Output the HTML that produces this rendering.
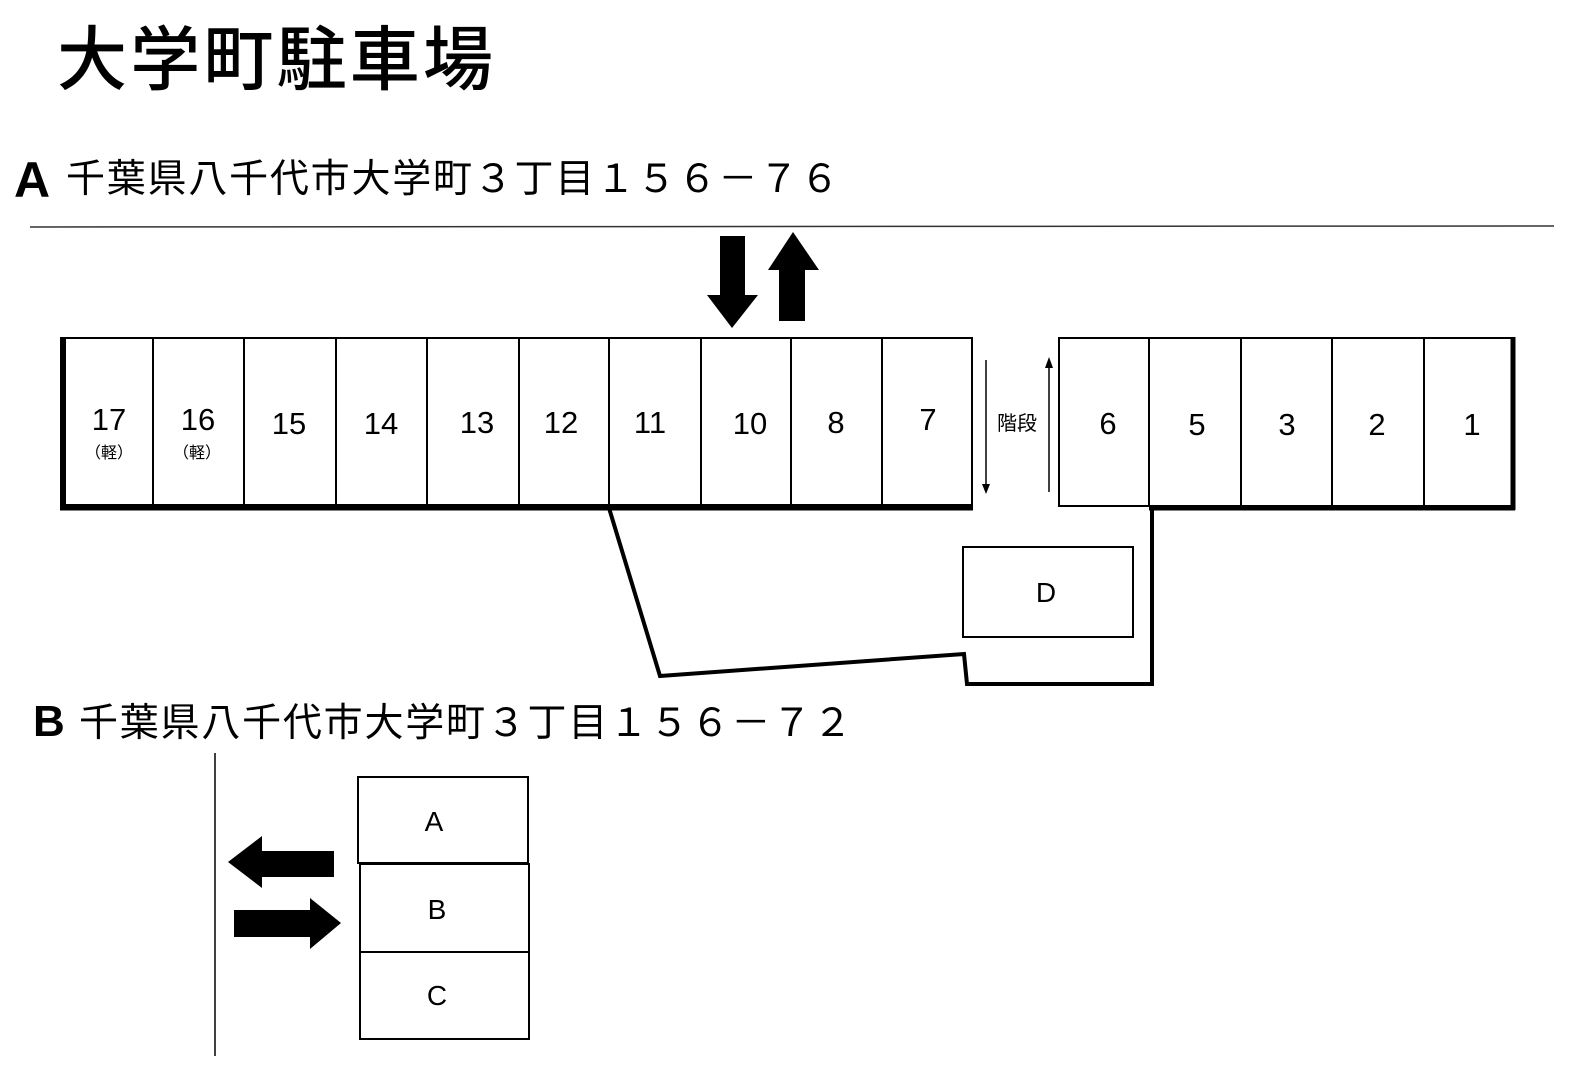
<!DOCTYPE html>
<html><head><meta charset="utf-8"><style>
html,body{margin:0;padding:0;background:#fff;}
svg{display:block;}
text{font-family:"Liberation Sans","Noto Sans CJK JP",sans-serif;fill:#000;}
</style></head><body>
<svg width="1594" height="1078" viewBox="0 0 1594 1078" xmlns="http://www.w3.org/2000/svg">
<text x="57" y="84" font-size="70" font-weight="500" textLength="436" style="font-family:'Noto Sans CJK JP',sans-serif">大学町駐車場</text>
<text x="14" y="197" font-size="50" font-weight="bold">A</text>
<text x="66" y="192" font-size="39" textLength="773" style="font-family:'Noto Sans CJK JP',sans-serif">千葉県八千代市大学町３丁目１５６－７６</text>
<line x1="30" y1="227" x2="1554" y2="226" stroke="#333" stroke-width="1.5"/>
<polygon points="720,236 745,236 745,295 758,295 732,328 707,295 720,295" fill="#000"/>
<polygon points="779,321 805,321 805,270 819,270 793,232 768,270 779,270" fill="#000"/>
<g stroke="#000" fill="none">
<rect x="63" y="338" width="909" height="167" stroke-width="2"/>
<line x1="63" y1="337" x2="63" y2="510" stroke-width="6"/>
<line x1="60" y1="508" x2="973" y2="508" stroke-width="5"/>
<g stroke-width="2">
<line x1="153" y1="338" x2="153" y2="507"/><line x1="244" y1="338" x2="244" y2="507"/>
<line x1="336" y1="338" x2="336" y2="507"/><line x1="427" y1="338" x2="427" y2="507"/>
<line x1="519" y1="338" x2="519" y2="507"/><line x1="609" y1="338" x2="609" y2="507"/>
<line x1="701" y1="338" x2="701" y2="507"/><line x1="791" y1="338" x2="791" y2="507"/>
<line x1="882" y1="338" x2="882" y2="507"/>
</g>
<rect x="1059" y="338" width="454" height="168" stroke-width="2"/>
<line x1="1513" y1="337" x2="1513" y2="510" stroke-width="5"/>
<line x1="1149" y1="508" x2="1515" y2="508" stroke-width="5"/>
<g stroke-width="2">
<line x1="1149" y1="338" x2="1149" y2="507"/><line x1="1241" y1="338" x2="1241" y2="507"/>
<line x1="1332" y1="338" x2="1332" y2="507"/><line x1="1424" y1="338" x2="1424" y2="507"/>
</g>
<polyline points="609,508 660,676 964,654 967,684 1152,684 1152,508" stroke-width="4"/>
<rect x="963" y="547" width="170" height="90" stroke-width="2"/>
<line x1="986" y1="360" x2="986" y2="486" stroke-width="1.5"/>
<line x1="1049" y1="366" x2="1049" y2="492" stroke-width="1.5"/>
</g>
<polygon points="982,484 990,484 986,494" fill="#000"/>
<polygon points="1045,368 1053,368 1049,357" fill="#000"/>
<text x="1017" y="430" font-size="20" text-anchor="middle" style="font-family:'Noto Sans CJK JP',sans-serif">階段</text>
<g font-size="31" text-anchor="middle">
<text x="109" y="430">17</text><text x="198" y="430">16</text>
<text x="289" y="434">15</text><text x="381" y="434">14</text>
<text x="477" y="433">13</text><text x="561" y="433">12</text>
<text x="650" y="433">11</text><text x="750" y="434">10</text>
<text x="836" y="433">8</text><text x="928" y="430">7</text>
<text x="1108" y="434">6</text><text x="1197" y="435">5</text>
<text x="1287" y="435">3</text><text x="1377" y="435">2</text>
<text x="1472" y="435">1</text>
</g>
<g font-size="16" text-anchor="middle" style="font-family:'Noto Sans CJK JP',sans-serif">
<text x="109" y="458">（軽）</text><text x="197" y="458">（軽）</text>
</g>
<text x="1046" y="602" font-size="28" text-anchor="middle">D</text>
<text x="33" y="736" font-size="44" font-weight="bold">B</text>
<text x="79" y="736" font-size="39" textLength="773" style="font-family:'Noto Sans CJK JP',sans-serif">千葉県八千代市大学町３丁目１５６－７２</text>
<line x1="215" y1="753" x2="215" y2="1056" stroke="#000" stroke-width="1.5"/>
<g stroke="#000" stroke-width="2" fill="none">
<rect x="358" y="777" width="170" height="86"/>
<rect x="360" y="864" width="169" height="88"/>
<rect x="360" y="952" width="169" height="87"/>
</g>
<g font-size="28" text-anchor="middle">
<text x="434" y="831">A</text><text x="437" y="919">B</text><text x="437" y="1005">C</text>
</g>
<polygon points="228,862 262,836 262,851 334,851 334,877 262,877 262,888" fill="#000"/>
<polygon points="234,910 310,910 310,898 341,923 310,949 310,937 234,937" fill="#000"/>
</svg>
</body></html>
